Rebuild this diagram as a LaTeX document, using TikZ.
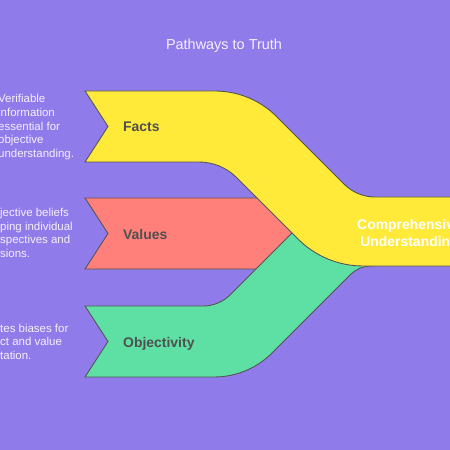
\documentclass[tikz,border=0pt]{standalone}
\usepackage{fontspec}
\setmainfont{Liberation Sans}
\definecolor{pathbg}{RGB}{143,124,234}
\definecolor{factsfill}{RGB}{255,234,58}
\definecolor{valuesfill}{RGB}{255,128,122}
\definecolor{objfill}{RGB}{94,224,164}
\definecolor{ribbonline}{RGB}{85,85,85}
\definecolor{labeltext}{RGB}{80,80,80}
\definecolor{notetext}{RGB}{244,240,255}

\begin{document}
\begin{tikzpicture}[
    x=1bp, y=-1bp,
    ribbon/.style={draw=ribbonline, line width=0.9bp},
    label/.style={font=\fontsize{14}{17}\selectfont\bfseries, text=labeltext, inner sep=0pt, anchor=base west},
    note/.style={font=\fontsize{11.5}{13.6}\selectfont, text=notetext, align=left, inner sep=0pt, anchor=north west},
    goal/.style={font=\fontsize{14}{17.5}\selectfont\bfseries, text=white, align=center, inner sep=0pt},
    heading/.style={font=\fontsize{14.5}{17}\selectfont, text=notetext, inner sep=0pt, anchor=base}
  ]
    \useasboundingbox (0,0) rectangle (450,450);
    \clip (0,0) rectangle (450,450);
    \fill[pathbg] (0,0) rectangle (450,450);

    \node[heading] (title) at (224,50) {Pathways to Truth};

    \draw[ribbon, fill=valuesfill] (85,198) -- (262,198) -- (296,233) -- (262,269) -- (85,269) -- (108,233.5) -- cycle;
    \draw[ribbon, fill=objfill] (85,306) -- (203,306) .. controls (213.2,306) and (223.1,301.9) .. (230.3,294.7) -- (300,225) -- (375,240) -- (375,266) -- (371,266) .. controls (363.3,266) and (355.9,269.1) .. (350.5,274.5) -- (272,353) .. controls (256.7,368.4) and (235.8,377) .. (214,377) -- (85,377) -- (108,341.5) -- cycle;
    \draw[ribbon, fill=factsfill] (85,91) -- (215,91) .. controls (238,91) and (260.2,100.2) .. (276.5,116.5) -- (344.3,184.3) .. controls (352.4,192.4) and (363.5,197) .. (375,197) -- (460,197) -- (460,266) -- (363,266) .. controls (338.7,266) and (315.3,256.3) .. (298.1,239.1) -- (236.6,177.6) .. controls (226.6,167.6) and (213.1,162) .. (199,162) -- (85,162) -- (108,126.5) -- cycle;

    \node[label] (facts) at (123,132) {Facts};
    \node[label] (values) at (123,239) {Values};
    \node[label] (objectivity) at (123,347) {Objectivity};
    \node[goal] (understanding) at (409.5,234.5) {Comprehensive\\Understanding};

    \node[note] (factsnote) at (-2,94.5) {Verifiable\\information\\essential for\\objective\\understanding.};
    \node[note] (valuesnote) at (0,208.3) {jective beliefs\\ping individual\\spectives and\\sions.};
    \node[note] (objnote) at (0,323.6) {tes biases for\\ct and value\\tation.};
  \end{tikzpicture}
\end{document}
